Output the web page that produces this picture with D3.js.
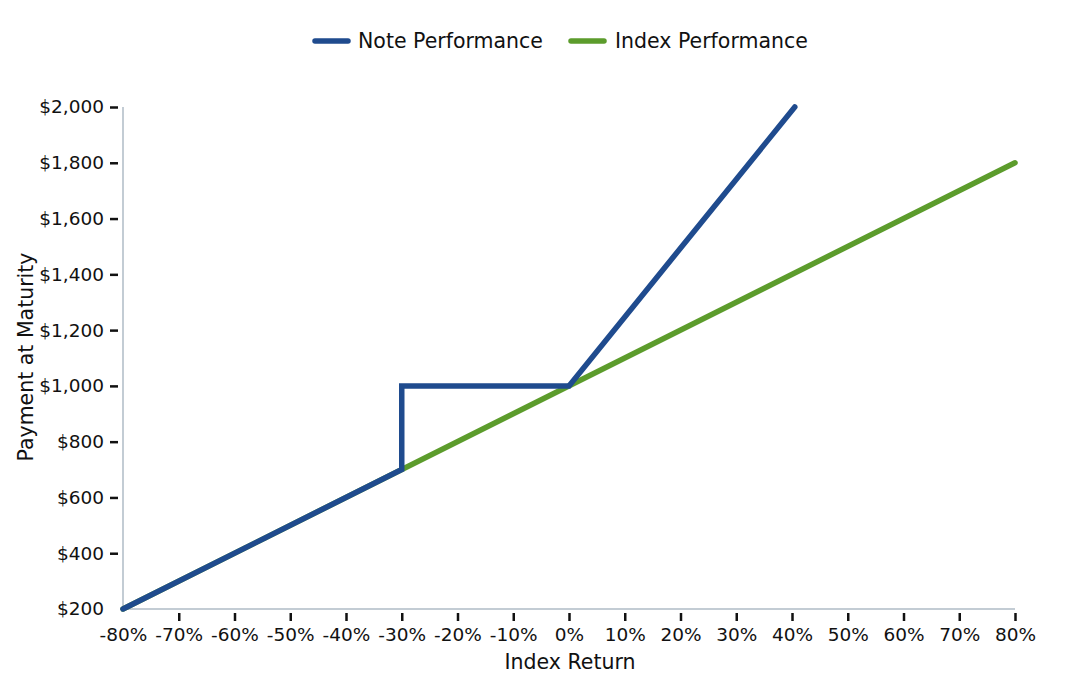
<!DOCTYPE html>
<html><head><meta charset="utf-8">
<script src="https://cdn.jsdelivr.net/npm/d3@7"></script>
<style>
body{margin:0;background:#fff;}
text{font-family:"DejaVu Sans",sans-serif;fill:#111;}
</style></head>
<body><svg id="c" width="1088" height="688"></svg>
<script>
const xTicks = [-80,-70,-60,-50,-40,-30,-20,-10,0,10,20,30,40,50,60,70,80];
const yTicks = [200,400,600,800,1000,1200,1400,1600,1800,2000];
const noteReturns = [-80,-30,-30,0,40.5];
const notePayments = [200,700,1000,1000,2000];
const indexReturns = [-80,80];
const indexPayments = [200,1800];
const seriesNames = ["Note Performance","Index Performance"];
const colors = ["#1f4b8e","#5c9c2c"];

const svg = d3.select("#c");
const L=123,R=1015,T=107,B=609;
const x = d3.scaleLinear().domain([-80,80]).range([L,R]);
const y = d3.scaleLinear().domain([200,2000]).range([B,T]);

// axis lines
svg.append("line").attr("x1",L).attr("x2",L).attr("y1",T).attr("y2",B).attr("stroke","#c3ccd4").attr("stroke-width",2);
svg.append("line").attr("x1",L).attr("x2",R).attr("y1",B).attr("y2",B).attr("stroke","#c3ccd4").attr("stroke-width",2);

// y axis
const ya = svg.append("g").attr("transform",`translate(${L-5},0)`)
  .call(d3.axisLeft(y).tickValues(yTicks).tickSize(8).tickPadding(6).tickFormat(d=>"$"+d3.format(",")(d)));
ya.select(".domain").remove();
ya.selectAll("line").attr("stroke","#111").attr("stroke-width",2.5);
ya.selectAll(".tick").filter(d=>d===200).select("line").remove();
ya.selectAll("text").style("font-size","18.5px").attr("fill","#111");

// x axis
const xa = svg.append("g").attr("transform",`translate(0,${B+4})`)
  .call(d3.axisBottom(x).tickValues(xTicks).tickSize(8).tickPadding(7).tickFormat(d=>d+"%"));
xa.select(".domain").remove();
xa.selectAll("line").attr("stroke","#111").attr("stroke-width",2.5);
xa.selectAll(".tick").filter(d=>d===-80).select("line").remove();
xa.selectAll("text").style("font-size","18.5px").attr("fill","#111");

// titles
svg.append("text").attr("x",570).attr("y",669).attr("text-anchor","middle").style("font-size","20.5px").text("Index Return");
svg.append("text").attr("transform","translate(33,357) rotate(-90)").attr("text-anchor","middle").style("font-size","20.5px").text("Payment at Maturity");

// lines
const line = d3.line().x(d=>x(d[0])).y(d=>y(d[1]));
svg.append("path").datum(indexReturns.map((r,i)=>[r,indexPayments[i]]))
  .attr("d",line).attr("fill","none").attr("stroke",colors[1]).attr("stroke-width",5.5).attr("stroke-linecap","round").attr("stroke-linejoin","round");
svg.append("path").datum(noteReturns.map((r,i)=>[r,notePayments[i]]))
  .attr("d",line).attr("fill","none").attr("stroke",colors[0]).attr("stroke-width",5.5).attr("stroke-linecap","round").attr("stroke-linejoin","miter");

// legend
const lg = [{x:315,tx:358},{x:571,tx:615}];
seriesNames.forEach((n,i)=>{
  svg.append("line").attr("x1",lg[i].x).attr("x2",lg[i].x+33).attr("y1",41).attr("y2",41)
    .attr("stroke",colors[i]).attr("stroke-width",5.5).attr("stroke-linecap","round");
  svg.append("text").attr("x",lg[i].tx).attr("y",41).attr("dy","0.35em").style("font-size","20.5px").text(n);
});
</script></body></html>
